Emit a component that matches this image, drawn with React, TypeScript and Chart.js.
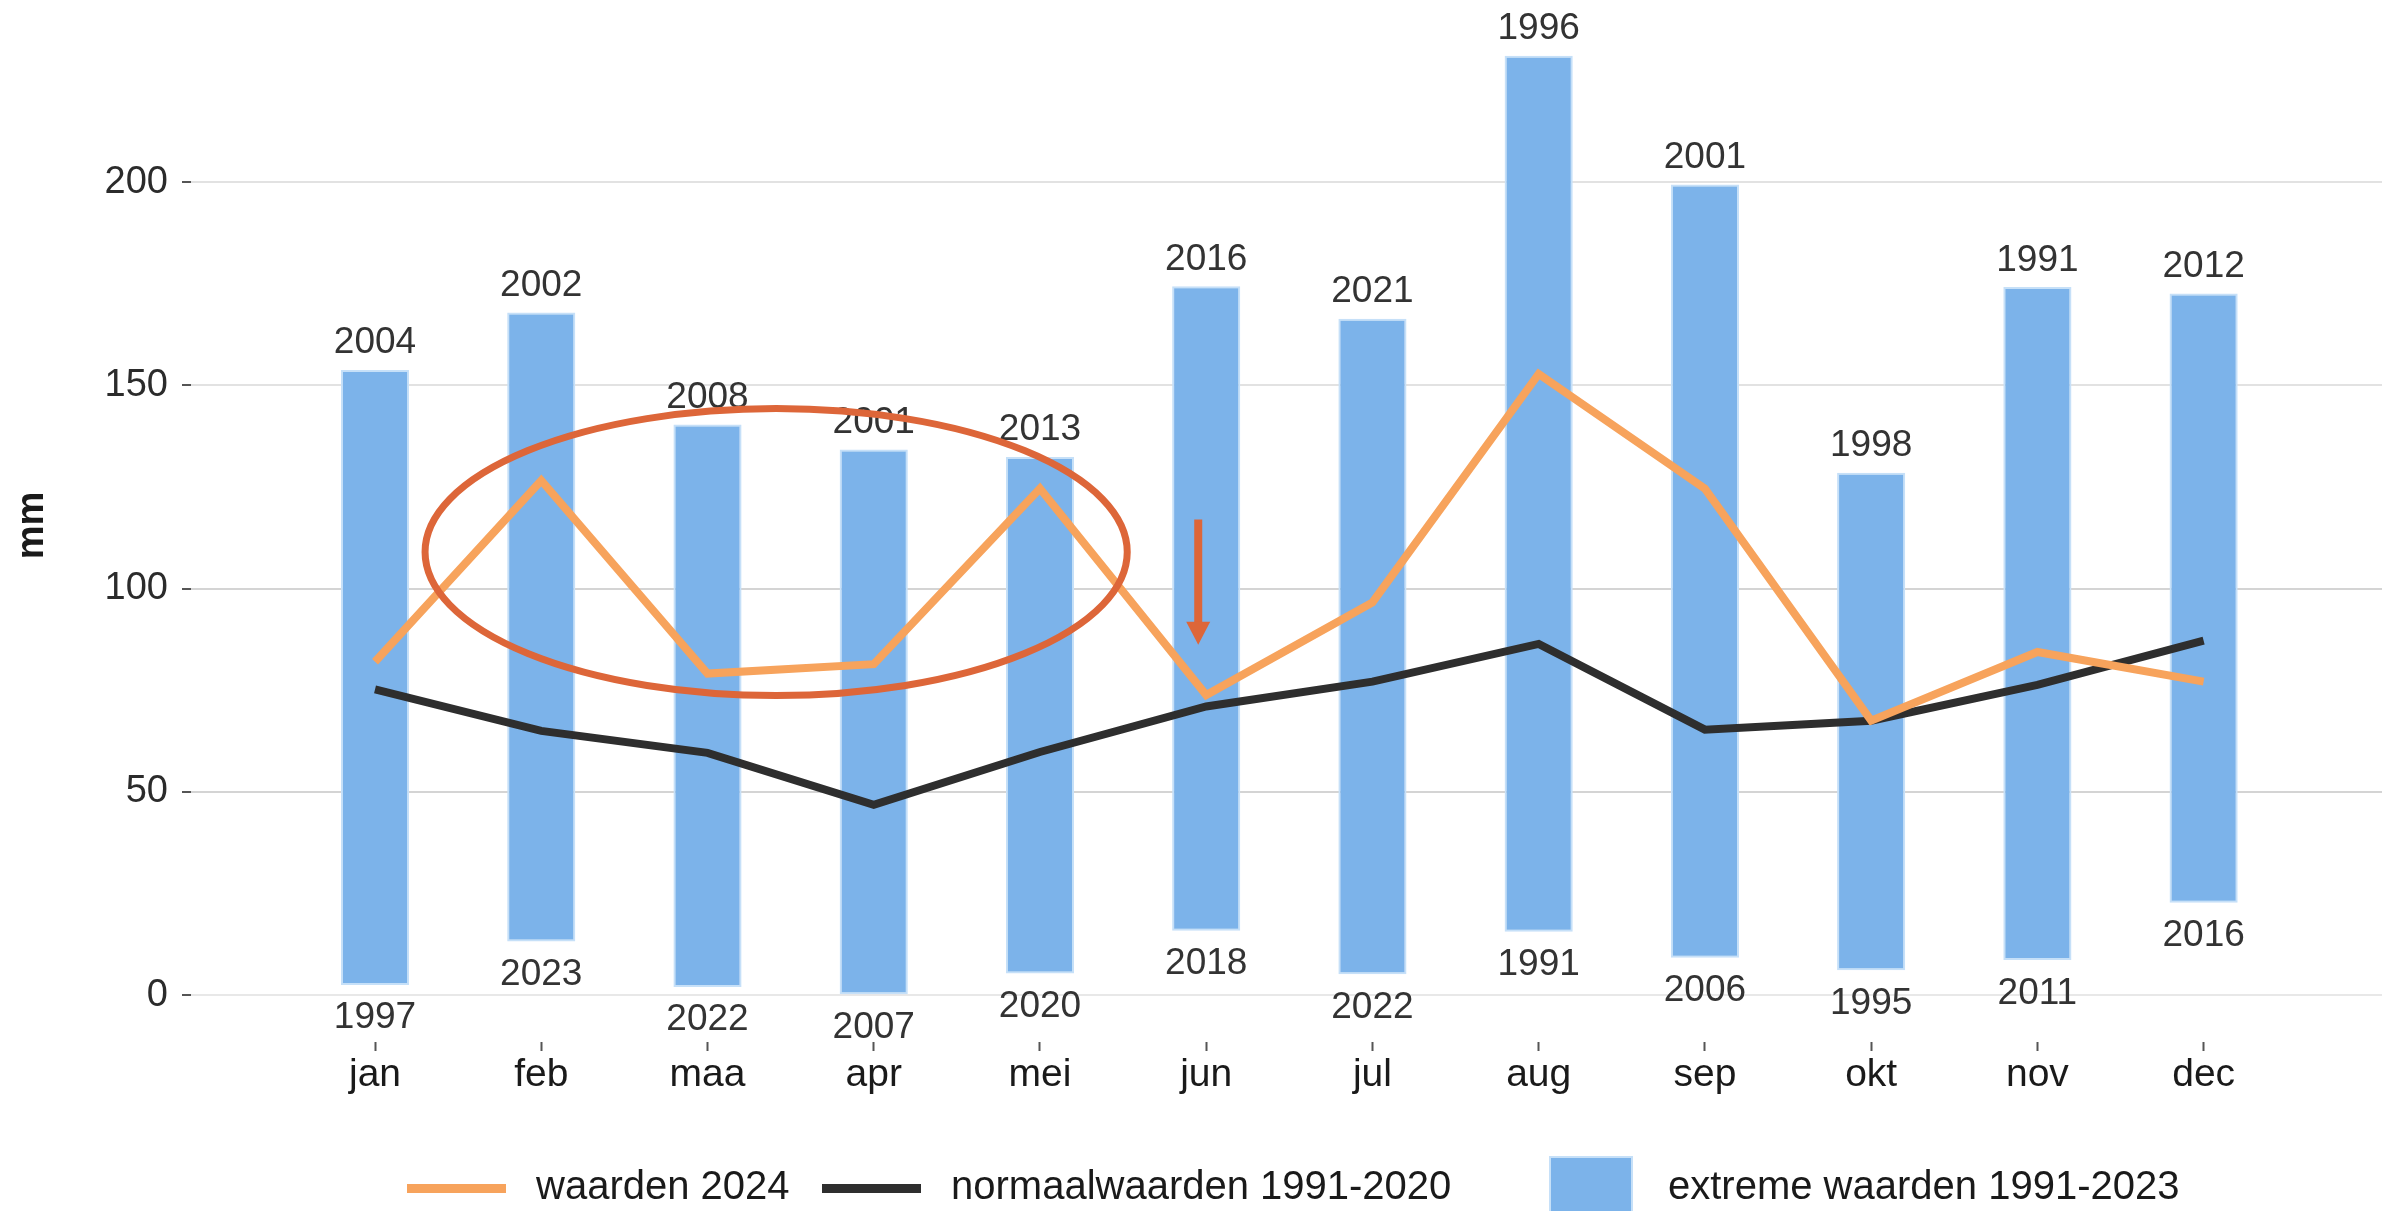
import React, { useEffect, useRef } from 'react';
import { Chart, registerables } from 'chart.js';

Chart.register(...registerables);

// ---------- data ----------
const months = ['jan', 'feb', 'maa', 'apr', 'mei', 'jun', 'jul', 'aug', 'sep', 'okt', 'nov', 'dec'];
const waarden2024 = [82.0, 126.6, 79.1, 81.4, 124.6, 73.8, 96.6, 152.8, 124.6, 67.5, 84.4, 77.1];
const normaalwaarden = [75.2, 65.0, 59.6, 46.8, 59.8, 71.0, 77.1, 86.4, 65.3, 67.5, 76.3, 87.2];
const extremeMax = [153.8, 167.9, 140.4, 134.2, 132.4, 174.4, 166.4, 231.1, 199.4, 128.5, 174.2, 172.6];
const extremeMin = [2.5, 13.2, 2.0, 0.2, 5.3, 15.8, 5.1, 15.6, 9.2, 6.1, 8.6, 22.7];
const maxYears = ['2004', '2002', '2008', '2001', '2013', '2016', '2021', '1996', '2001', '1998', '1991', '2012'];
const minYears = ['1997', '2023', '2022', '2007', '2020', '2018', '2022', '1991', '2006', '1995', '2011', '2016'];
const yTickValues = [0, 50, 100, 150, 200];
const seriesLabels = ['waarden 2024', 'normaalwaarden 1991-2020', 'extreme waarden 1991-2023'];
const yTitle = 'mm';

// annotation (in data units: x = month index, y = mm)
const highlightEllipse = { cx: 2.413, cy: 109, rx: 2.112, ry: 35.3 };
const highlightArrow = { x: 4.952, from: 117, to: 86.2 };

// ---------- styles ----------
const FONT = '"Liberation Sans", Arial, Helvetica, sans-serif';
const ORANGE = '#f7a35c';
const BLACK = '#2e2e2e';
const BLUE = '#7cb3ea';
const BLUE_EDGE = '#c6e0f8';
const RED = '#dd6639';

const yearLabelPlugin = {
  id: 'yearLabels',
  afterDatasetsDraw(chart: any) {
    const { ctx } = chart;
    const x = chart.scales.x;
    const y = chart.scales.y;
    ctx.save();
    ctx.font = `37px ${FONT}`;
    ctx.fillStyle = '#333333';
    ctx.textAlign = 'center';
    ctx.textBaseline = 'alphabetic';
    months.forEach((_, i) => {
      const px = x.getPixelForValue(i);
      ctx.fillText(maxYears[i], px, y.getPixelForValue(extremeMax[i]) - 16.5);
      ctx.fillText(minYears[i], px, y.getPixelForValue(extremeMin[i]) + 43.5);
    });
    ctx.restore();
  },
};

const annotationPlugin = {
  id: 'annotations',
  afterDraw(chart: any) {
    const { ctx } = chart;
    const x = chart.scales.x;
    const y = chart.scales.y;
    ctx.save();
    // ellipse
    const cx = x.getPixelForValue(highlightEllipse.cx);
    const cy = y.getPixelForValue(highlightEllipse.cy);
    const rx = Math.abs(x.getPixelForValue(highlightEllipse.cx + highlightEllipse.rx) - cx);
    const ry = Math.abs(y.getPixelForValue(highlightEllipse.cy + highlightEllipse.ry) - cy);
    ctx.strokeStyle = RED;
    ctx.lineWidth = 7;
    ctx.beginPath();
    ctx.ellipse(cx, cy, rx, ry, 0, 0, Math.PI * 2);
    ctx.stroke();
    // arrow
    const ax = x.getPixelForValue(highlightArrow.x);
    const ay0 = y.getPixelForValue(highlightArrow.from);
    const ay1 = y.getPixelForValue(highlightArrow.to);
    const headLen = 23;
    const headHalf = 12;
    ctx.strokeStyle = RED;
    ctx.fillStyle = RED;
    ctx.lineWidth = 8;
    ctx.beginPath();
    ctx.moveTo(ax, ay0);
    ctx.lineTo(ax, ay1 - headLen + 2);
    ctx.stroke();
    ctx.beginPath();
    ctx.moveTo(ax - headHalf, ay1 - headLen);
    ctx.lineTo(ax + headHalf, ay1 - headLen);
    ctx.lineTo(ax, ay1);
    ctx.closePath();
    ctx.fill();
    ctx.restore();
  },
};

const gridColorFor = (v: number) => {
  if (v === 0) return '#e8e8e8';
  if (v === 50 || v === 100) return '#d4d4d4';
  return '#e2e2e2';
};

export default function App() {
  const canvasRef = useRef<HTMLCanvasElement | null>(null);

  useEffect(() => {
    const canvas = canvasRef.current;
    if (!canvas) return;
    const chart = new Chart(canvas, {
      type: 'bar',
      data: {
        datasets: [
          {
            type: 'line',
            label: seriesLabels[0],
            data: waarden2024.map((v, i) => ({ x: i, y: v })),
            borderColor: ORANGE,
            backgroundColor: ORANGE,
            borderWidth: 8,
            pointRadius: 0,
            tension: 0,
            fill: false,
            order: 0,
          } as any,
          {
            type: 'line',
            label: seriesLabels[1],
            data: normaalwaarden.map((v, i) => ({ x: i, y: v })),
            borderColor: BLACK,
            backgroundColor: BLACK,
            borderWidth: 8,
            pointRadius: 0,
            tension: 0,
            fill: false,
            order: 1,
          } as any,
          {
            type: 'bar',
            label: seriesLabels[2],
            data: extremeMin.map((v, i) => ({ x: i, y: [v, extremeMax[i]] })),
            backgroundColor: BLUE,
            borderColor: BLUE_EDGE,
            borderWidth: 2,
            borderSkipped: false,
            barPercentage: 0.41,
            categoryPercentage: 1,
            order: 2,
          } as any,
        ],
      },
      options: {
        responsive: false,
        maintainAspectRatio: false,
        devicePixelRatio: 1,
        animation: false,
        events: [],
        layout: { padding: { top: 9, left: 0, right: 0, bottom: 0 } },
        plugins: {
          legend: { display: false },
          tooltip: { enabled: false },
        },
        scales: {
          x: {
            type: 'linear',
            min: -1.107,
            max: 12.073,
            offset: false,
            afterFit: (scale: any) => {
              scale.height = 169;
              scale.paddingLeft = 0;
              scale.paddingRight = 0;
            },
            afterBuildTicks: (scale: any) => {
              scale.ticks = months.map((_, i) => ({ value: i }));
            },
            ticks: {
              autoSkip: false,
              maxRotation: 0,
              minRotation: 0,
              padding: 1,
              color: '#1a1a1a',
              font: { family: FONT, size: 39 },
              callback: (v: any) => months[Math.round(Number(v))] ?? '',
            },
            grid: {
              display: true,
              drawOnChartArea: false,
              drawTicks: true,
              tickLength: 9,
              tickColor: '#555555',
              tickWidth: 2,
              offset: false,
            },
            border: { display: false },
          },
          y: {
            type: 'linear',
            min: -11.55,
            max: 242.6,
            afterFit: (scale: any) => {
              scale.width = 191;
              scale.paddingTop = 0;
              scale.paddingBottom = 0;
            },
            afterBuildTicks: (scale: any) => {
              scale.ticks = yTickValues.map((v) => ({ value: v }));
            },
            ticks: {
              padding: 14,
              color: '#2b2b2b',
              font: { family: FONT, size: 38 },
              callback: (v: any) => String(v),
            },
            grid: {
              color: (ctx: any) => gridColorFor(ctx.tick ? ctx.tick.value : 0),
              lineWidth: 2,
              drawTicks: true,
              tickLength: 9,
              tickColor: '#555555',
              tickWidth: 2,
            },
            border: { display: false },
            title: {
              display: true,
              text: yTitle,
              color: '#1a1a1a',
              font: { family: FONT, size: 38, weight: 'bold' },
              padding: { top: 10, bottom: 0 },
            },
          },
        },
      } as any,
      plugins: [yearLabelPlugin, annotationPlugin],
    });
    return () => chart.destroy();
  }, []);

  const textStyle = (left: number): React.CSSProperties => ({
    position: 'absolute',
    left,
    top: 1162,
    lineHeight: '46px',
    fontSize: 40,
    fontFamily: FONT,
    color: '#1a1a1a',
    whiteSpace: 'nowrap',
  });

  return (
    <div
      style={{
        position: 'fixed',
        left: 0,
        top: 0,
        width: 2382,
        height: 1211,
        overflow: 'hidden',
        background: '#ffffff',
      }}
    >
      <canvas
        ref={canvasRef}
        width={2382}
        height={1211}
        style={{ position: 'absolute', left: 0, top: 0, width: 2382, height: 1211, display: 'block' }}
      />
      {/* legend */}
      <div style={{ position: 'absolute', left: 407, top: 1184, width: 99, height: 9, background: ORANGE }} />
      <div style={textStyle(536)}>{seriesLabels[0]}</div>
      <div style={{ position: 'absolute', left: 822, top: 1184, width: 99, height: 9, background: BLACK }} />
      <div style={textStyle(951)}>{seriesLabels[1]}</div>
      <div
        style={{
          position: 'absolute',
          left: 1549,
          top: 1156,
          width: 84,
          height: 99,
          background: BLUE,
          border: `2px solid ${BLUE_EDGE}`,
          boxSizing: 'border-box',
        }}
      />
      <div style={textStyle(1668)}>{seriesLabels[2]}</div>
    </div>
  );
}
